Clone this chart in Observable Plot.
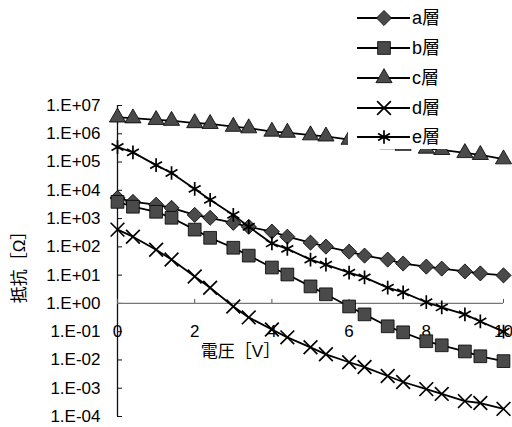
<!DOCTYPE html>
<html><head><meta charset="utf-8">
<script src="https://cdn.jsdelivr.net/npm/d3@7"></script>
<script src="https://cdn.jsdelivr.net/npm/@observablehq/plot@0.6"></script>
<style>
body{margin:0;background:#fff;}
#wrap{position:relative;width:512px;height:427px;font-family:"Liberation Sans","Noto Sans CJK JP",sans-serif;}
#legend{position:absolute;left:348px;top:0;width:110px;height:149px;background:#fff;}
</style></head><body><div id="wrap"></div>
<script>
const voltage = [0,0.4,1,1.4,2,2.4,3,3.4,4,4.4,5,5.4,6,6.4,7,7.4,8,8.4,9,9.4,10];
const seriesNames = ["a層","b層","c層","d層","e層"];
const layerA = [5400,3900,3100,2400,1350,1070,708,513,347,229,141,102,67.6,49,35.5,25.7,20,17,13.5,11.5,9.8];
const layerB = [3900,2630,1740,1070,407,209,93,49,18.6,10.5,4.0,2.1,0.78,0.41,0.155,0.095,0.046,0.033,0.020,0.0135,0.0091];
const layerC = [3.8e6,3.55e6,3.1e6,2.9e6,2.4e6,2.25e6,1.78e6,1.58e6,1.2e6,1.1e6,8.9e5,8.1e5,6.2e5,5.4e5,4.3e5,3.8e5,3.0e5,2.7e5,2.1e5,1.8e5,1.26e5];
const layerD = [407,229,79,35.5,8.9,3.6,0.78,0.32,0.12,0.063,0.028,0.0158,0.0083,0.0056,0.0027,0.00166,0.00093,0.00063,0.00035,0.0003,0.000186];
const layerE = [3.4e5,2.2e5,7.8e4,4.1e4,1.12e4,4600,1350,513,132,85,35.5,23.4,12.3,8.3,3.6,2.45,1.1,0.72,0.41,0.23,0.10];
const yTicks = [1e-4,1e-3,1e-2,1e-1,1,1e1,1e2,1e3,1e4,1e5,1e6,1e7];
const yTickLabels = ["1.E-04","1.E-03","1.E-02","1.E-01","1.E+00","1.E+01","1.E+02","1.E+03","1.E+04","1.E+05","1.E+06","1.E+07"];
const xTicks = [0,2,4,6,8,10];
const xTickLabels = ["0","2","4","6","8","10"];
const xTitle = "電圧［V］";
const yTitle = "抵抗［Ω］";

const allValues = [layerA, layerB, layerC, layerD, layerE];
const styles = [
  {symbol: "diamond2", r: 6.8, fill: "#4a4a4a", stroke: "#000", strokeWidth: 0.8, d3sym: d3.symbolDiamond2},
  {symbol: "square", r: 7.2, fill: "#4a4a4a", stroke: "#000", strokeWidth: 0.8, d3sym: d3.symbolSquare},
  {symbol: "triangle", r: 6, fill: "#4a4a4a", stroke: "#000", strokeWidth: 0.8, d3sym: d3.symbolTriangle},
  {symbol: "times", r: 6.3, fill: "none", stroke: "#000", strokeWidth: 1.7, d3sym: d3.symbolTimes},
  {symbol: "asterisk", r: 6.5, fill: "none", stroke: "#000", strokeWidth: 1.7, d3sym: d3.symbolAsterisk}
];
const series = seriesNames.map((name, k) => voltage.map((v, i) => ({series: name, x: v, y: allValues[k][i]})));

const font = '"Liberation Sans","Noto Sans CJK JP",sans-serif';
const marks = [
  Plot.ruleX([0], {stroke: "#111", strokeWidth: 1.3}),
  Plot.ruleY(yTicks, {y: d => d, x1: 0, x2: 0, insetRight: -5, stroke: "#111"}),
  Plot.ruleY([1], {stroke: "#777", strokeWidth: 1.3}),
  Plot.ruleX(xTicks, {x: d => d, y1: 1, y2: 1, insetTop: -4, stroke: "#555"}),
  Plot.text(yTicks, {x: 0, y: d => d, text: (d, i) => yTickLabels[i], textAnchor: "end", dx: -17, fontSize: 17, fill: "#000", fontFamily: font, style: "letter-spacing:1px"}),
  Plot.text(xTicks, {x: d => d, y: 1, text: (d, i) => xTickLabels[i], dy: 28, fontSize: 17, fill: "#000", fontFamily: font}),
  Plot.text([xTitle], {frameAnchor: "bottom-left", textAnchor: "middle", dx: 123, dy: -60, fontSize: 17, fill: "#000", fontFamily: font}),
  Plot.text([yTitle], {frameAnchor: "left", textAnchor: "middle", dx: -98, dy: 2, rotate: -90, fontSize: 17, fill: "#000", fontFamily: font})
];
series.forEach((data, k) => {
  marks.push(Plot.line(data, {x: "x", y: "y", stroke: "#000", strokeWidth: 1.8}));
  const s = styles[k];
  marks.push(Plot.dot(data, {x: "x", y: "y", symbol: s.symbol, r: s.r, fill: s.fill, stroke: s.stroke, strokeWidth: s.strokeWidth}));
});

const chart = Plot.plot({
  width: 512, height: 427,
  marginLeft: 117, marginRight: 9, marginTop: 105, marginBottom: 11,
  x: {domain: [0, 10], axis: null},
  y: {type: "log", domain: [1e-4, 1e7], axis: null},
  style: {background: "#fff", fontFamily: font},
  marks
});
const wrap = document.getElementById("wrap");
wrap.appendChild(chart);

// legend overlay (white box that hides part of the c line, as in the original)
const leg = document.createElement("div");
leg.id = "legend";
wrap.appendChild(leg);
const ls = d3.select(leg).append("svg").attr("width", 110).attr("height", 149);
const rowY = [18, 48, 78, 108, 137];
seriesNames.forEach((name, k) => {
  const s = styles[k];
  const g = ls.append("g").attr("transform", `translate(0,${rowY[k]})`);
  g.append("line").attr("x1", 9).attr("x2", 62).attr("y1", 0).attr("y2", 0).attr("stroke", "#000").attr("stroke-width", 1.8);
  g.append("path").attr("transform", "translate(36,0)")
    .attr("d", d3.symbol().type(s.d3sym).size(Math.PI * s.r * s.r)())
    .attr("fill", s.fill).attr("stroke", s.stroke).attr("stroke-width", s.strokeWidth);
  g.append("text").attr("x", 64).attr("y", 0).attr("dy", "0.36em").attr("font-size", 18)
    .attr("font-family", font).attr("fill", "#000").text(name);
});
</script></body></html>
